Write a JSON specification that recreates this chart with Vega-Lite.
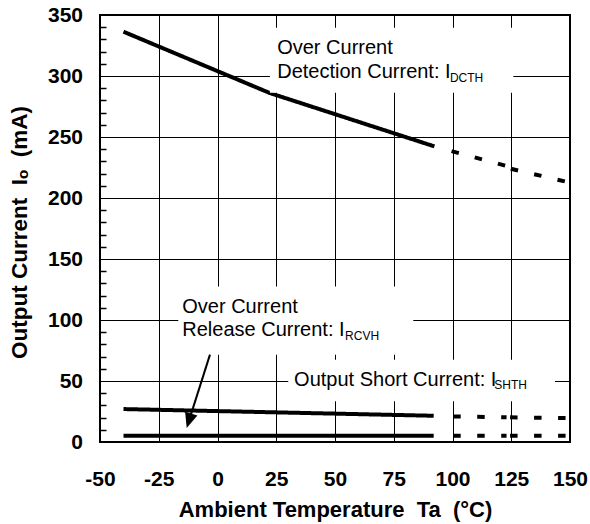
{
  "$schema": "https://vega.github.io/schema/vega-lite/v6.json",
  "width": 470,
  "height": 427,
  "autosize": {"type": "none"},
  "padding": {"left": 100, "top": 15, "right": 20, "bottom": 82},
  "background": "white",
  "config": {
    "view": {"stroke": "black", "strokeWidth": 2},
    "font": "Liberation Sans"
  },
  "resolve": {"axis": {"y": "independent"}},
  "datasets": {
    "curves": [
      {"series": "IDCTH", "seg": "d0", "part": "measured", "t": -40, "i": 336.3},
      {"series": "IDCTH", "seg": "d0", "part": "measured", "t": 22.3, "i": 286.0},
      {"series": "IDCTH", "seg": "d0", "part": "measured", "t": 92.3, "i": 242.3},
      {"series": "IDCTH", "seg": "d1", "part": "extrapolated", "t": 99.6, "i": 238.4},
      {"series": "IDCTH", "seg": "d1", "part": "extrapolated", "t": 123.0, "i": 226.2},
      {"series": "IDCTH", "seg": "d2", "part": "extrapolated", "t": 124.8, "i": 224.0},
      {"series": "IDCTH", "seg": "d2", "part": "extrapolated", "t": 150, "i": 212.6},
      {"series": "IRCVH", "seg": "r0", "part": "measured", "t": -40, "i": 27.0},
      {"series": "IRCVH", "seg": "r0", "part": "measured", "t": 92.0, "i": 21.5},
      {"series": "IRCVH", "seg": "r1", "part": "extrapolated", "t": 100.3, "i": 21.0},
      {"series": "IRCVH", "seg": "r1", "part": "extrapolated", "t": 123.0, "i": 20.3},
      {"series": "IRCVH", "seg": "r2", "part": "extrapolated", "t": 124.5, "i": 20.2},
      {"series": "IRCVH", "seg": "r2", "part": "extrapolated", "t": 150, "i": 19.6},
      {"series": "ISHTH", "seg": "s0", "part": "measured", "t": -40, "i": 5.2},
      {"series": "ISHTH", "seg": "s0", "part": "measured", "t": 92.0, "i": 5.2},
      {"series": "ISHTH", "seg": "s1", "part": "extrapolated", "t": 100.3, "i": 5.2},
      {"series": "ISHTH", "seg": "s1", "part": "extrapolated", "t": 123.0, "i": 5.2},
      {"series": "ISHTH", "seg": "s2", "part": "extrapolated", "t": 124.5, "i": 5.2},
      {"series": "ISHTH", "seg": "s2", "part": "extrapolated", "t": 150, "i": 5.2}
    ],
    "boxes": [
      {"t": 22.3, "t2": 125.9, "i": 286.2, "i2": 339.5},
      {"t": -16.7, "t2": 83.3, "i": 71.6, "i2": 127.5},
      {"t": 30.1, "t2": 143.6, "i": 33.3, "i2": 67.5}
    ],
    "labels": [
      {"t": 25.4, "i": 318.0, "text": "Over Current"},
      {"t": 25.4, "i": 298.4, "text": "Detection Current: I"},
      {"t": -15.0, "i": 105.7, "text": "Over Current"},
      {"t": -15.0, "i": 86.6, "text": "Release Current: I"},
      {"t": 32.6, "i": 45.6, "text": "Output Short Current: I"}
    ],
    "subs": [
      {"t": 98.9, "i": 295.1, "text": "DCTH"},
      {"t": 54.3, "i": 83.9, "text": "RCVH"},
      {"t": 117.8, "i": 43.4, "text": "SHTH"}
    ],
    "arrow": [
      {"t": -3.2, "i": 71.6, "t2": -12.1, "i2": 17.7}
    ],
    "arrowhead": [
      {"t": -13.1, "i": 11.5}
    ]
  },
  "layer": [
    {
      "data": {"name": "curves"},
      "mark": {"type": "line", "color": "black", "strokeWidth": 4, "strokeCap": "butt", "clip": true},
      "encoding": {
        "x": {
          "field": "t", "type": "quantitative",
          "scale": {"domain": [-50, 150], "nice": false, "zero": false},
          "axis": {
            "values": [-50, -25, 0, 25, 50, 75, 100, 125, 150],
            "labelExpr": "'' + datum.value",
            "grid": true, "gridColor": "#000", "gridWidth": 1, "gridOpacity": 1,
            "domain": false, "ticks": false, "tickSize": 0,
            "labelFont": "Liberation Sans", "labelFontWeight": "bold", "labelFontSize": 21,
            "labelColor": "#000", "labelPadding": 26, "labelFlush": false, "labelOverlap": false,
            "title": "Ambient Temperature\u00a0 Ta\u00a0 (°C)",
            "titleFont": "Liberation Sans", "titleFontSize": 22, "titleFontWeight": "bold",
            "titleColor": "#000", "titleBaseline": "alphabetic", "titleY": 74.4
          }
        },
        "y": {
          "field": "i", "type": "quantitative",
          "scale": {"domain": [0, 350], "nice": false, "zero": false},
          "axis": {
            "orient": "left",
            "values": [0, 50, 100, 150, 200, 250, 300, 350],
            "grid": true, "gridColor": "#000", "gridWidth": 1, "gridOpacity": 1,
            "domain": false, "ticks": false, "tickSize": 0,
            "labelFont": "Liberation Sans", "labelFontWeight": "bold", "labelFontSize": 21,
            "labelColor": "#000", "labelPadding": 17.5, "labelFlush": false, "labelOverlap": false,
            "title": "Output Current\u00a0 Iₒ\u00a0 (mA)",
            "titleFont": "Liberation Sans", "titleFontSize": 22.5, "titleFontWeight": "bold",
            "titleColor": "#000", "titleBaseline": "alphabetic", "titleX": -74, "titleY": 217
          }
        },
        "detail": {"field": "seg", "type": "nominal"},
        "strokeDash": {
          "field": "part", "type": "nominal",
          "scale": {"domain": ["measured", "extrapolated"], "range": [[1, 0], [7.5, 16.5]]},
          "legend": null
        }
      }
    },
    {
      "data": {"name": "boxes"},
      "mark": {"type": "rect", "fill": "white", "stroke": null},
      "encoding": {
        "x": {"field": "t", "type": "quantitative"},
        "x2": {"field": "t2"},
        "y": {
          "field": "i", "type": "quantitative",
          "axis": {
            "orient": "left",
            "values": [10, 20, 30, 40, 60, 70, 80, 90, 110, 120, 130, 140, 160, 170, 180, 190, 210, 220, 230, 240, 260, 270, 280, 290, 310, 320, 330, 340],
            "grid": false, "domain": false, "labels": false, "title": null,
            "ticks": true, "tickSize": -6, "tickColor": "#000", "tickWidth": 1.5
          }
        },
        "y2": {"field": "i2"}
      }
    },
    {
      "data": {"name": "labels"},
      "mark": {"type": "text", "align": "left", "baseline": "alphabetic", "fontSize": 20, "font": "Liberation Sans", "color": "#000"},
      "encoding": {
        "x": {"field": "t", "type": "quantitative"},
        "y": {"field": "i", "type": "quantitative", "axis": null},
        "text": {"field": "text"}
      }
    },
    {
      "data": {"name": "subs"},
      "mark": {"type": "text", "align": "left", "baseline": "alphabetic", "fontSize": 12, "font": "Liberation Sans", "color": "#000"},
      "encoding": {
        "x": {"field": "t", "type": "quantitative"},
        "y": {"field": "i", "type": "quantitative", "axis": null},
        "text": {"field": "text"}
      }
    },
    {
      "data": {"name": "arrow"},
      "mark": {"type": "rule", "color": "#000", "strokeWidth": 2},
      "encoding": {
        "x": {"field": "t", "type": "quantitative"},
        "y": {"field": "i", "type": "quantitative", "axis": null},
        "x2": {"field": "t2"},
        "y2": {"field": "i2"}
      }
    },
    {
      "data": {"name": "arrowhead"},
      "mark": {"type": "point", "shape": "M0,0L-0.43,-1L0.43,-1Z", "size": 900, "angle": 17.6, "filled": true, "color": "#000", "opacity": 1, "strokeWidth": 0},
      "encoding": {
        "x": {"field": "t", "type": "quantitative"},
        "y": {"field": "i", "type": "quantitative", "axis": null}
      }
    }
  ]
}
